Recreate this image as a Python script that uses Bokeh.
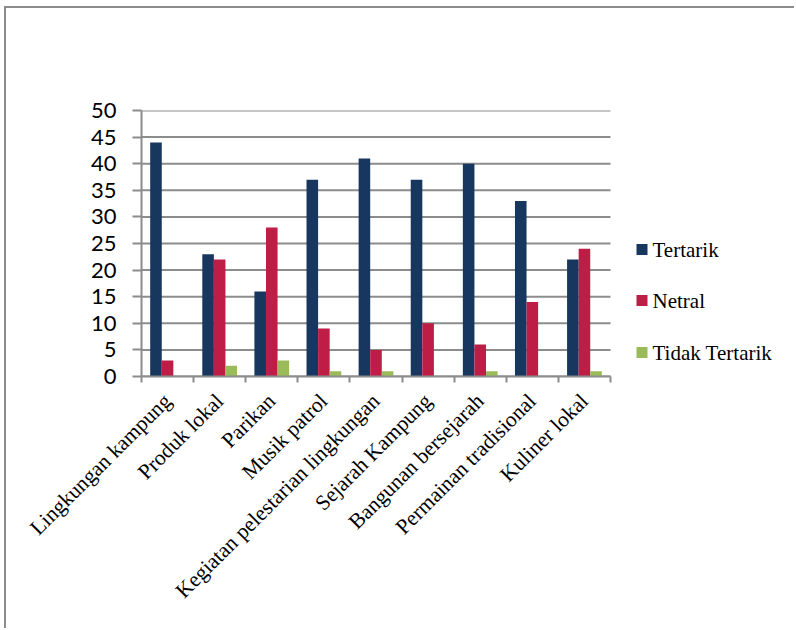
import math
from bokeh.plotting import figure
from bokeh.models import ColumnDataSource, FixedTicker, Range1d
from bokeh.core.properties import value
from bokeh.transform import dodge
from bokeh.embed import file_html
from bokeh.resources import INLINE

categories = ["Lingkungan kampung", "Produk lokal", "Parikan", "Musik patrol",
              "Kegiatan pelestarian lingkungan", "Sejarah Kampung",
              "Bangunan bersejarah", "Permainan tradisional", "Kuliner lokal"]
tertarik = [44, 23, 16, 37, 41, 37, 40, 33, 22]
netral = [3, 22, 28, 9, 5, 10, 6, 14, 24]
tidak_tertarik = [0, 2, 3, 1, 1, 0, 1, 0, 1]
series_names = ["Tertarik", "Netral", "Tidak Tertarik"]
series_colors = ["#17375E", "#BE1E46", "#9BBB59"]
y_ticks = [0, 5, 10, 15, 20, 25, 30, 35, 40, 45, 50]

n = len(categories)
centers = [i + 0.5 for i in range(n)]
bounds = [float(i) for i in range(n + 1)]

source = ColumnDataSource(dict(x=centers, t=tertarik, n=netral, d=tidak_tertarik))
grid_src = ColumnDataSource(dict(y=y_ticks, x0=[0] * len(y_ticks), x1=[n] * len(y_ticks)))

GRAY = "#8c8c8c"
W, H = 790, 622
OX, OY = 6, 8  # canvas offset in page (margin + border)
FRAME_L, FRAME_R_AXIS, FRAME_T, FRAME_B = 141, 610, 110, 376
Y_MAX = 50
frame_w = (OX + W) - FRAME_L
x_end = n * frame_w / (FRAME_R_AXIS - FRAME_L)


def px_to_x(px):
    return (px - FRAME_L) * x_end / frame_w


def px_to_y(py):
    return (FRAME_B - py) * Y_MAX / (FRAME_B - FRAME_T)


p = figure(width=W, height=H, output_backend="svg", toolbar_location=None,
           x_range=Range1d(0, x_end), y_range=Range1d(0, Y_MAX),
           min_border_left=FRAME_L - OX, min_border_right=0,
           min_border_top=FRAME_T - OY, min_border_bottom=(OY + H) - FRAME_B)
p.styles = {"margin-left": "4px", "margin-top": "6px",
            "border-left": "2px solid #8c8c8c", "border-top": "2px solid #8c8c8c"}
p.outline_line_color = None
p.background_fill_color = "white"
p.border_fill_color = "white"
p.xgrid.grid_line_color = None
p.ygrid.grid_line_color = None

# horizontal gridlines spanning only the category area
p.segment(x0="x0", x1="x1", y0="y", y1="y", source=grid_src,
          line_color=GRAY, line_width=2, level="underlay")

bw = 1 / 4.5
cols = ["t", "n", "d"]
offsets = [-bw, 0.0, bw]
for col, off, color in zip(cols, offsets, series_colors):
    p.vbar(x=dodge("x", off, range=p.x_range), top=col, width=bw, source=source,
           fill_color=color, line_color=None)

# y axis
p.yaxis.ticker = FixedTicker(ticks=y_ticks)
p.yaxis.axis_line_color = GRAY
p.yaxis.axis_line_width = 2
p.yaxis.major_tick_line_color = GRAY
p.yaxis.major_tick_line_width = 2
p.yaxis.major_tick_out = 9
p.yaxis.major_tick_in = 0
p.yaxis.minor_tick_line_color = None
p.yaxis.major_label_standoff = 16
p.yaxis.major_label_text_font = "Lato"
p.yaxis.major_label_text_font_size = "22px"
p.yaxis.major_label_text_color = "black"

# x axis: labels at centers, ticks at boundaries
p.xaxis.bounds = (0, n)
p.xaxis.ticker = FixedTicker(ticks=centers, minor_ticks=bounds)
p.xaxis.major_label_overrides = {c: lab for c, lab in zip(centers, categories)}
p.xaxis.major_tick_line_color = None
p.xaxis.minor_tick_line_color = GRAY
p.xaxis.minor_tick_line_width = 2
p.xaxis.minor_tick_out = 6
p.xaxis.minor_tick_in = 0
p.xaxis.axis_line_color = GRAY
p.xaxis.axis_line_width = 2
p.xaxis.major_label_orientation = math.pi / 4
p.xaxis.major_label_standoff = 15
p.xaxis.major_label_text_font = "Liberation Serif"
p.xaxis.major_label_text_font_size = "21.5px"
p.xaxis.major_label_text_color = "black"

# legend (drawn with glyphs so the serif font is honoured)
LEG_SQ_X, LEG_TXT_X, LEG_ROWS_PX = 641.5, 652, [249, 300, 352]
leg_src = ColumnDataSource(dict(
    xs=[px_to_x(LEG_SQ_X)] * len(series_names),
    xt=[px_to_x(LEG_TXT_X)] * len(series_names),
    y=[px_to_y(v) for v in LEG_ROWS_PX],
    name=series_names, color=series_colors))
p.rect(x="xs", y="y", width=11, height=11, width_units="screen", height_units="screen",
       fill_color="color", line_color=None, source=leg_src)
p.text(x="xt", y="y", text="name", source=leg_src, text_font=value("Liberation Serif"),
       text_font_size="21px", text_color="black", text_baseline="middle", text_align="left")

open("out.html", "w").write(file_html(p, INLINE))
